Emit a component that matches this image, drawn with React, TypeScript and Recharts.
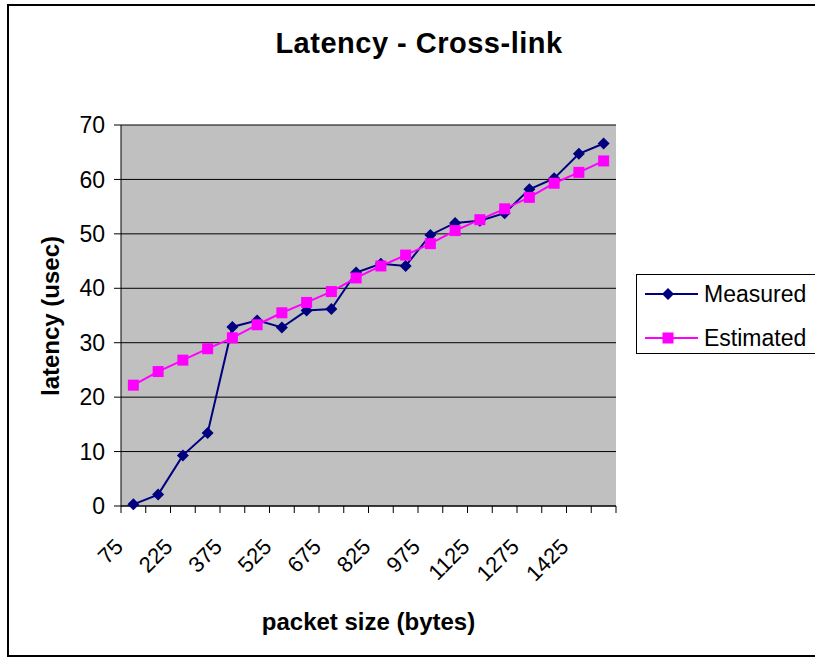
import { CartesianGrid, Legend, Line, LineChart, XAxis, YAxis } from 'recharts'

const sizes = [75, 150, 225, 300, 375, 450, 525, 600, 675, 750, 825, 900, 975, 1050, 1125, 1200, 1275, 1350, 1425, 1500]
const measured = [0.3, 2.1, 9.3, 13.4, 32.9, 34.1, 32.8, 35.9, 36.2, 42.9, 44.5, 44.1, 49.8, 52.0, 52.4, 53.8, 58.2, 60.2, 64.7, 66.6]
const estimated = [22.2, 24.7, 26.8, 28.9, 30.9, 33.3, 35.5, 37.4, 39.4, 41.9, 44.1, 46.1, 48.2, 50.6, 52.6, 54.6, 56.7, 59.3, 61.3, 63.4]
const yTicks = [0, 10, 20, 30, 40, 50, 60, 70]
const seriesOrder = ['Measured', 'Estimated']

const data = sizes.map((size, i) => ({ size, Measured: measured[i], Estimated: estimated[i] }))

const FONT = '"Liberation Sans", Arial, sans-serif'
const W = 815
const H = 658
const M = { top: 125, right: 199, bottom: 0, left: 0 }
const Y_W = 121
const X_H = 152
const PLOT_W = W - M.right - Y_W
const BW = PLOT_W / sizes.length
const NAVY = '#000080'
const PINK = '#FF00FF'

const Diamond = ({ cx, cy, fill, size = 6 }: any) =>
  cx == null ? null : (
    <polygon points={`${cx},${cy - size} ${cx + size},${cy} ${cx},${cy + size} ${cx - size},${cy}`} fill={fill} />
  )

const Square = ({ cx, cy, fill, size = 5.5 }: any) =>
  cx == null ? null : <rect x={cx - size} y={cy - size} width={size * 2} height={size * 2} fill={fill} />

function XTick({ x, y, payload, index }: any) {
  const tx = x - 9
  const ty = y + 42
  return (
    <g>
      <line x1={x - BW / 2} y1={y} x2={x - BW / 2} y2={y + 7} stroke="#000" />
      {index === sizes.length - 1 && <line x1={x + BW / 2} y1={y} x2={x + BW / 2} y2={y + 7} stroke="#000" />}
      {index % 2 === 0 && (
        <text x={tx} y={ty} textAnchor="end" fontSize={22} fontFamily={FONT} fill="#000"
          transform={`rotate(-45, ${tx}, ${ty})`}>
          {payload.value}
        </text>
      )}
    </g>
  )
}

function LegendBox({ payload }: any) {
  const items = [...(payload || [])].sort((a: any, b: any) => seriesOrder.indexOf(a.value) - seriesOrder.indexOf(b.value))
  return (
    <div style={{ border: '1px solid #000', width: 220, height: 80, boxSizing: 'border-box', background: '#fff', fontFamily: FONT }}>
      {items.map((item: any, i: number) => (
        <div key={item.value} style={{ display: 'flex', alignItems: 'center', height: 38, marginTop: i === 0 ? 0 : 6 }}>
          <svg width={66} height={38} style={{ flex: 'none' }}>
            <line x1={8} y1={19} x2={61} y2={19} stroke={item.color} strokeWidth={2} />
            {item.value === 'Measured'
              ? <Diamond cx={31} cy={19} fill={item.color} />
              : <Square cx={31} cy={19} fill={item.color} />}
          </svg>
          <span style={{ fontSize: 23, color: '#000', marginLeft: 1 }}>{item.value}</span>
        </div>
      ))}
    </div>
  )
}

export default function App() {
  return (
    <div style={{ position: 'absolute', left: 0, top: 0, width: W, height: H, overflow: 'hidden', background: '#fff' }}>
      <div style={{ position: 'absolute', left: 7, top: 4, width: 900, height: 653, border: '2px solid #000', boxSizing: 'border-box' }} />
      <div style={{ position: 'absolute', left: 0, width: 838, top: 27, textAlign: 'center', fontFamily: FONT, fontWeight: 'bold', fontSize: 29, letterSpacing: 0.5, lineHeight: 'normal' }}>
        Latency - Cross-link
      </div>
      <div style={{ position: 'absolute', left: Y_W, width: PLOT_W, top: 608, textAlign: 'center', fontFamily: FONT, fontWeight: 'bold', fontSize: 24 }}>
        packet size (bytes)
      </div>
      <div style={{ position: 'absolute', left: 51, top: 316, transform: 'translate(-50%, -50%) rotate(-90deg)', whiteSpace: 'nowrap', fontFamily: FONT, fontWeight: 'bold', fontSize: 24 }}>
        latency (usec)
      </div>
      <div style={{ position: 'absolute', left: 0, top: 0 }}>
        <LineChart width={W} height={H} data={data} margin={M}>
          <CartesianGrid vertical={false} stroke="#000" fill="#C0C0C0" />
          <XAxis dataKey="size" height={X_H} interval={0} tickLine={false} tickSize={0} tickMargin={0}
            padding={{ left: BW / 2, right: BW / 2 }}
            axisLine={{ stroke: '#000' }} tick={<XTick />} />
          <XAxis xAxisId="top" orientation="top" height={0} tick={false} tickLine={false} axisLine={{ stroke: '#808080' }} />
          <YAxis width={Y_W} domain={[0, 70]} ticks={yTicks} interval={0} tickSize={7} tickMargin={9}
            axisLine={{ stroke: '#000' }} tickLine={{ stroke: '#000' }}
            tick={{ fontSize: 23, fontFamily: FONT, fill: '#000' }} />
          <YAxis yAxisId="right" orientation="right" width={0} domain={[0, 70]} tick={false} tickLine={false}
            axisLine={{ stroke: '#808080' }} />
          <Line dataKey="Measured" stroke={NAVY} strokeWidth={2} isAnimationActive={false}
            dot={<Diamond fill={NAVY} />} activeDot={false} />
          <Line dataKey="Estimated" stroke={PINK} strokeWidth={2} isAnimationActive={false}
            dot={<Square fill={PINK} />} activeDot={false} />
          <Legend layout="horizontal" verticalAlign="middle" align="center" content={<LegendBox />}
            wrapperStyle={{ left: 636, top: 274, width: 220 }} />
        </LineChart>
      </div>
    </div>
  )
}
